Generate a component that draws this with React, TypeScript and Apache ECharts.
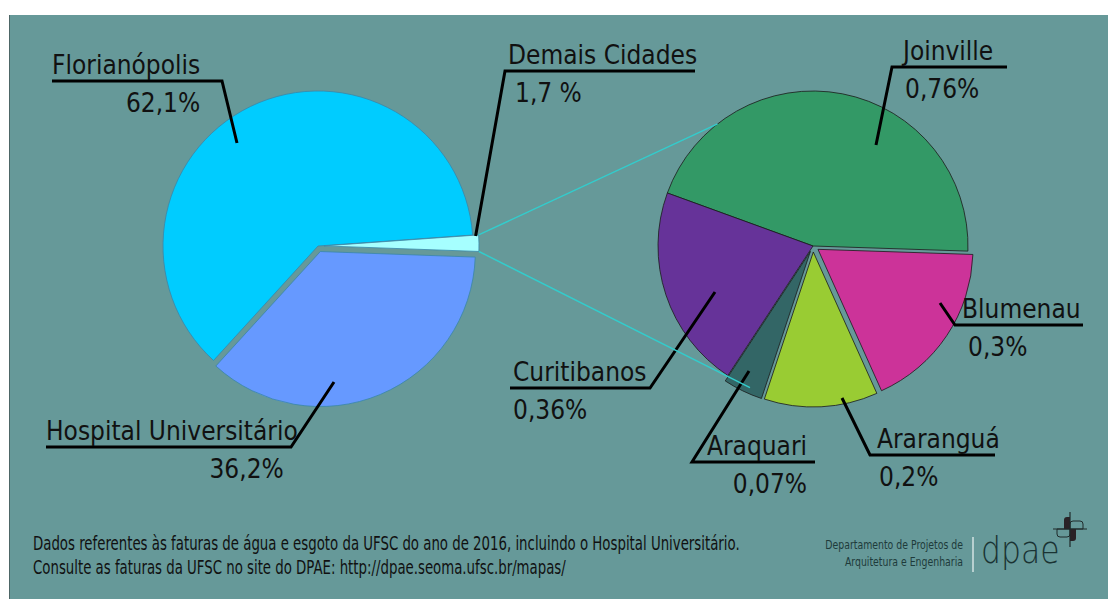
import React, { useEffect, useRef } from "react";
import * as echarts from "echarts";

// ---------- data ----------
const leftNames = ["Florianópolis", "Demais Cidades", "Hospital Universitário"];
const leftValues = [62.1, 1.7, 36.2];
const leftPctText = ["62,1%", "1,7 %", "36,2%"];
const leftColors = ["#00ccff", "#a6ffff", "#6699ff"];
const leftExploded = [false, true, true];

const rightNames = ["Joinville", "Blumenau", "Araranguá", "Araquari", "Curitibanos"];
const rightValues = [0.76, 0.3, 0.2, 0.07, 0.36];
const rightPctText = ["0,76%", "0,3%", "0,2%", "0,07%", "0,36%"];
const rightColors = ["#339966", "#cc3399", "#99cc33", "#336666", "#663399"];
const rightExploded = [false, true, true, true, false];

const footerLines = [
  "Dados referentes às faturas de água e esgoto da UFSC do ano de 2016, incluindo o Hospital Universitário.",
  "Consulte as faturas da UFSC no site do DPAE: http://dpae.seoma.ufsc.br/mapas/",
];
const logoLines = ["Departamento de Projetos de", "Arquitetura e Engenharia"];
const logoWord = "dpae";

// ---------- layout ----------
const W = 1108;
const H = 599;
const FONT = "'DejaVu Sans Condensed', 'DejaVu Sans', sans-serif";
const LEFT_C = [318, 246];
const RIGHT_C = [813, 246];
const R = 155;
const OFFSET = 6;
const NAME_LH = 32;
const PCT_LH = 44;
const FS = 26;

const leftSum = leftValues.reduce((a, b) => a + b, 0);
const leftStart = 1 + ((leftValues[0] + leftValues[1] / 2) / leftSum) * 360;
const rightStart = 160;

const rad = (d: number) => (d * Math.PI) / 180;
const pt = (c: number[], r: number, a: number) => [c[0] + r * Math.cos(rad(a)), c[1] - r * Math.sin(rad(a))];

// Demais Cidades slice geometry (for connector lines)
const dA0 = leftStart - (leftValues[0] / leftSum) * 360;
const dA1 = dA0 - (leftValues[1] / leftSum) * 360;
const dMid = (dA0 + dA1) / 2;
const dCenter = pt(LEFT_C, OFFSET, dMid);
const dTop = pt(dCenter, R, dA0);
const dBot = pt(dCenter, R, dA1);
const rTop = pt(RIGHT_C, R, 128);
const rBot = pt(RIGHT_C, R, -114);

type LabelCfg = { x: number; lineY: number; pts: number[][]; pctAlign: "left" | "right"; pctPad: number };

const leftLayout: LabelCfg[] = [
  { x: 52, lineY: 81, pts: [[237, 143], [222, 81], [52, 81]], pctAlign: "right", pctPad: 0 },
  { x: 508, lineY: 71, pts: [[dTop[0] - 3, dTop[1] + 1], [505, 71], [695, 71]], pctAlign: "left", pctPad: 7 },
  { x: 46, lineY: 447, pts: [[334, 382], [291, 447], [46, 447]], pctAlign: "right", pctPad: 14 },
];
const rightLayout: LabelCfg[] = [
  { x: 903, lineY: 67, pts: [[876, 145], [892, 67], [1007, 67]], pctAlign: "left", pctPad: 2 },
  { x: 962, lineY: 325, pts: [[940, 303], [955, 325], [1083, 325]], pctAlign: "left", pctPad: 6 },
  { x: 877, lineY: 455, pts: [[842, 398], [870, 455], [995, 455]], pctAlign: "left", pctPad: 2 },
  { x: 707, lineY: 462, pts: [[749, 371], [692, 462], [815, 462]], pctAlign: "right", pctPad: 0 },
  { x: 513, lineY: 388, pts: [[715, 292], [650, 388], [510, 388]], pctAlign: "left", pctPad: 0 },
];

function richFor(layout: LabelCfg[]) {
  const rich: any = {
    n: { fontSize: FS, lineHeight: NAME_LH, fontFamily: FONT, color: "#111" },
  };
  layout.forEach((c, i) => {
    rich["p" + i] = {
      fontSize: FS,
      lineHeight: PCT_LH,
      fontFamily: FONT,
      color: "#111",
      align: c.pctAlign,
      padding: c.pctAlign === "right" ? [0, c.pctPad, 0, 0] : [0, 0, 0, c.pctPad],
    };
  });
  return rich;
}

// Visible slices (with exploded items), no labels
function sliceSeries(names: string[], values: number[], colors: string[], exploded: boolean[], center: number[], start: number, border: string) {
  return {
    type: "pie",
    z: 2,
    center,
    radius: R,
    startAngle: start,
    clockwise: true,
    selectedMode: "multiple",
    selectedOffset: OFFSET,
    silent: true,
    emphasis: { disabled: true },
    itemStyle: { borderColor: border, borderWidth: 0.8 },
    label: { show: false },
    labelLine: { show: false },
    data: names.map((n, i) => ({ name: n, value: values[i], selected: exploded[i], itemStyle: { color: colors[i] } })),
  };
}

// Same data, transparent slices, carries the labels and leader lines on top
function labelSeries(names: string[], values: number[], pcts: string[], center: number[], start: number, layout: LabelCfg[]) {
  return {
    type: "pie",
    z: 4,
    center,
    radius: R,
    startAngle: start,
    clockwise: true,
    avoidLabelOverlap: false,
    silent: true,
    emphasis: { disabled: true },
    itemStyle: { color: "rgba(0,0,0,0)", borderWidth: 0 },
    label: {
      show: true,
      position: "outside",
      formatter: (p: any) => `{n|${p.name}}\n{p${p.dataIndex}|${pcts[p.dataIndex]}}`,
      rich: richFor(layout),
    },
    labelLine: { show: true, length: 10, length2: 10, smooth: false, lineStyle: { color: "#000", width: 3 } },
    labelLayout: (params: any) => {
      const c = layout[params.dataIndex];
      return { x: c.x, y: c.lineY - NAME_LH, align: "left", verticalAlign: "top", labelLinePoints: c.pts };
    },
    data: names.map((n, i) => ({ name: n, value: values[i] })),
  };
}

export default function App() {
  const ref = useRef<HTMLDivElement>(null);
  useEffect(() => {
    if (!ref.current) return;
    const chart = echarts.init(ref.current, null, { renderer: "svg" });
    const txt = (
      text: string,
      x: number,
      y: number,
      size: number,
      color: string,
      scaleX: number,
      align = "left",
      family = FONT,
      weight: any = "normal"
    ) => ({
      type: "text",
      z: 5,
      x,
      y,
      scaleX,
      style: {
        text,
        x: 0,
        y: 0,
        fill: color,
        fontSize: size,
        fontFamily: family,
        fontWeight: weight,
        align,
        textAlign: align,
        verticalAlign: "middle",
        textVerticalAlign: "middle",
      },
    });
    const ink = "#1f2a2a";
    chart.setOption({
      animation: false,
      backgroundColor: "#ffffff",
      graphic: [
        { type: "rect", z: 0, shape: { x: 9, y: 15, width: W - 9, height: H - 15 }, style: { fill: "#669999" } },
        { type: "line", z: 0, shape: { x1: 9.5, y1: 15, x2: 9.5, y2: H }, style: { stroke: "#4d6666", lineWidth: 1 } },
        { type: "line", z: 10, shape: { x1: dTop[0], y1: dTop[1], x2: rTop[0], y2: rTop[1] }, style: { stroke: "#33cccc", lineWidth: 1.5 } },
        { type: "line", z: 10, shape: { x1: dBot[0], y1: dBot[1], x2: rBot[0], y2: rBot[1] }, style: { stroke: "#33cccc", lineWidth: 1.5 } },
        txt(footerLines[0], 33, 543, 19, "#111", 0.78),
        txt(footerLines[1], 33, 567, 19, "#111", 0.78),
        txt(logoLines[0], 963, 545, 13, "#1e3b3b", 0.8, "right"),
        txt(logoLines[1], 963, 562, 13, "#1e3b3b", 0.8, "right"),
        { type: "line", z: 5, shape: { x1: 973, y1: 537, x2: 973, y2: 572 }, style: { stroke: "#b7d0d0", lineWidth: 2 } },
        txt(logoWord, 981, 550, 37, "#1a3333", 0.85, "left", "'DejaVu Sans', sans-serif", 200),
        { type: "rect", z: 6, shape: { x: 1070, y: 521, width: 13, height: 8, r: [3, 3, 0, 0] }, style: { fill: "none", stroke: ink, lineWidth: 1 } },
        { type: "rect", z: 6, shape: { x: 1057, y: 529, width: 13, height: 8, r: [0, 0, 3, 3] }, style: { fill: "none", stroke: ink, lineWidth: 1 } },
        { type: "rect", z: 7, shape: { x: 1064, y: 517, width: 6, height: 12, r: [3, 0, 0, 0] }, style: { fill: "#2a2226" } },
        { type: "rect", z: 7, shape: { x: 1070, y: 529, width: 6, height: 12, r: [0, 0, 3, 0] }, style: { fill: "#2a2226" } },
        { type: "line", z: 8, shape: { x1: 1070, y1: 512, x2: 1070, y2: 547 }, style: { stroke: ink, lineWidth: 1.2 } },
        { type: "line", z: 8, shape: { x1: 1053, y1: 529, x2: 1087, y2: 529 }, style: { stroke: ink, lineWidth: 1.2 } },
      ],
      series: [
        sliceSeries(leftNames, leftValues, leftColors, leftExploded, LEFT_C, leftStart, "#3a86a8"),
        sliceSeries(rightNames, rightValues, rightColors, rightExploded, RIGHT_C, rightStart, "#1a1a1a"),
        labelSeries(leftNames, leftValues, leftPctText, LEFT_C, leftStart, leftLayout),
        labelSeries(rightNames, rightValues, rightPctText, RIGHT_C, rightStart, rightLayout),
      ],
    });
    return () => chart.dispose();
  }, []);
  return <div ref={ref} style={{ position: "fixed", left: 0, top: 0, width: W, height: H }} />;
}
